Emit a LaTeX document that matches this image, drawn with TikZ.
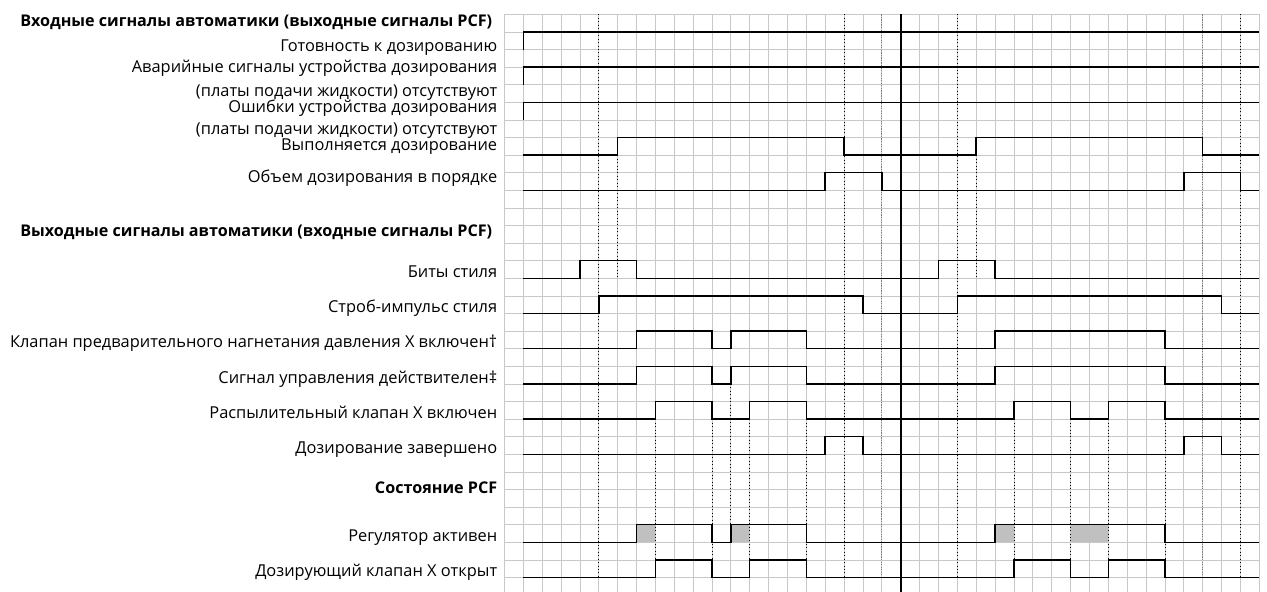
\documentclass[tikz,border=0pt]{standalone}
\usepackage{fontspec}
\setmainfont{Open Sans}
\usetikzlibrary{positioning}
\definecolor{gridgray}{RGB}{200,200,200}
\definecolor{fillgray}{RGB}{192,192,192}
\definecolor{markgray}{RGB}{125,125,125}

\begin{document}
\begin{tikzpicture}[
    x=14.1525pt, y=-13.2pt,
    gridline/.style={draw=gridgray, line width=0.6pt},
    signal/.style={draw=black, line width=1.1pt},
    marker/.style={draw=black, dotted, line width=0.6pt},
    softmarker/.style={draw=markgray, densely dotted, line width=0.9pt},
    sigtext/.style={anchor=base east, inner sep=0pt, font=\fontsize{12.3}{15}\selectfont},
    headtext/.style={anchor=base west, inner sep=0pt, font=\fontsize{12.1}{15}\selectfont\bfseries}
]
    \useasboundingbox (-26.73,-0.8125) rectangle (40.41,32.82);

    % Grid
    \foreach \m in {0,...,32}
        \draw[gridline] (0,\m) -- (40,\m);
    \foreach \n in {0,...,40}
        \draw[gridline] (\n,0) -- (\n,32.82);

    % Busy regions
    \fill[fillgray] (7,29) rectangle (8,30);
    \fill[fillgray] (12,29) rectangle (13,30);
    \fill[fillgray] (26,29) rectangle (27,30);
    \fill[fillgray] (30,29) rectangle (32,30);

    % Timing markers
    \foreach \n in {5,18,24,39}
        \draw[marker] (\n,0) -- (\n,32);
    \foreach \n in {20,37}
        \draw[softmarker] (\n,0) -- (\n,32);
    \foreach \n in {6,25}
        \draw[marker] (\n,8) -- (\n,15);
    \draw[marker] (12,21) -- (12,29);
    \foreach \n in {8,11,13,16,27,30,32,35}
        \draw[marker] (\n,23) -- (\n,31);

    % Cycle boundary
    \draw[line width=1.6pt] (21,0) -- (21,32.82);

    % Headings
    \node[headtext] (inhead) at (-25.67,0.72) {Входные сигналы автоматики (выходные сигналы PCF)};
    \node[headtext] (outhead) at (-25.67,12.65) {Выходные сигналы автоматики (входные сигналы PCF)};
    \node[sigtext, font=\fontsize{12.1}{15}\selectfont\bfseries] (statehead) at (-0.37,27.25) {Состояние PCF};

    % Input signals
    \node[sigtext] (ready)   at (-0.37,2.1)   {Готовность к дозированию};
    \node[sigtext] (alarms)  at (-0.37,3.3)   {Аварийные сигналы устройства дозирования};
    \node[sigtext] (alarmsb) at (-0.37,4.65)  {(платы подачи жидкости) отсутствуют};
    \node[sigtext] (errors)  at (-0.37,5.6)   {Ошибки устройства дозирования};
    \node[sigtext] (errorsb) at (-0.37,6.85)  {(платы подачи жидкости) отсутствуют};
    \node[sigtext] (dosing)  at (-0.37,7.75)  {Выполняется дозирование};
    \node[sigtext] (volume)  at (-0.37,9.55)  {Объем дозирования в порядке};

    \draw[signal] (1,2) -- (1,1) -- (40,1);
    \draw[signal] (1,4) -- (1,3) -- (40,3);
    \draw[signal] (1,6) -- (1,5) -- (40,5);
    \draw[signal] (1,8) -| (6,7) -| (18,8) -| (25,7) -| (37,8) -- (40,8);
    \draw[signal] (1,10) -| (17,9) -| (20,10) -| (36,9) -| (39,10) -- (40,10);

    % Output signals
    \node[sigtext] (bits)    at (-0.37,14.95) {Биты стиля};
    \node[sigtext] (strobe)  at (-0.37,16.95) {Строб-импульс стиля};
    \node[sigtext] (prevalve) at (-0.37,18.95) {Клапан предварительного нагнетания давления X включен†};
    \node[sigtext] (ctrlok)  at (-0.37,20.95) {Сигнал управления действителен‡};
    \node[sigtext] (spray)   at (-0.37,22.95) {Распылительный клапан X включен};
    \node[sigtext] (done)    at (-0.37,24.95) {Дозирование завершено};

    \draw[signal] (1,15) -| (4,14) -| (7,15) -| (23,14) -| (26,15) -- (40,15);
    \draw[signal] (1,17) -| (5,16) -| (19,17) -| (24,16) -| (38,17) -- (40,17);
    \draw[signal] (1,19) -| (7,18) -| (11,19) -| (12,18) -| (16,19) -| (26,18) -| (35,19) -- (40,19);
    \draw[signal] (1,21) -| (7,20) -| (11,21) -| (12,20) -| (16,21) -| (26,20) -| (35,21) -- (40,21);
    \draw[signal] (1,23) -| (8,22) -| (11,23) -| (13,22) -| (16,23) -| (27,22) -| (30,23) -| (32,22) -| (35,23) -- (40,23);
    \draw[signal] (1,25) -| (17,24) -| (19,25) -| (36,24) -| (38,25) -- (40,25);

    % PCF state
    \node[sigtext] (regulator) at (-0.37,29.95) {Регулятор активен};
    \node[sigtext] (meter)     at (-0.37,31.95) {Дозирующий клапан X открыт};

    \draw[signal] (1,30) -| (7,29) -| (11,30) -| (12,29) -| (16,30) -| (26,29) -| (35,30) -- (40,30);
    \draw[signal] (1,32) -| (8,31) -| (11,32) -| (13,31) -| (16,32) -| (27,31) -| (30,32) -| (32,31) -| (35,32) -- (40,32);
\end{tikzpicture}
\end{document}
